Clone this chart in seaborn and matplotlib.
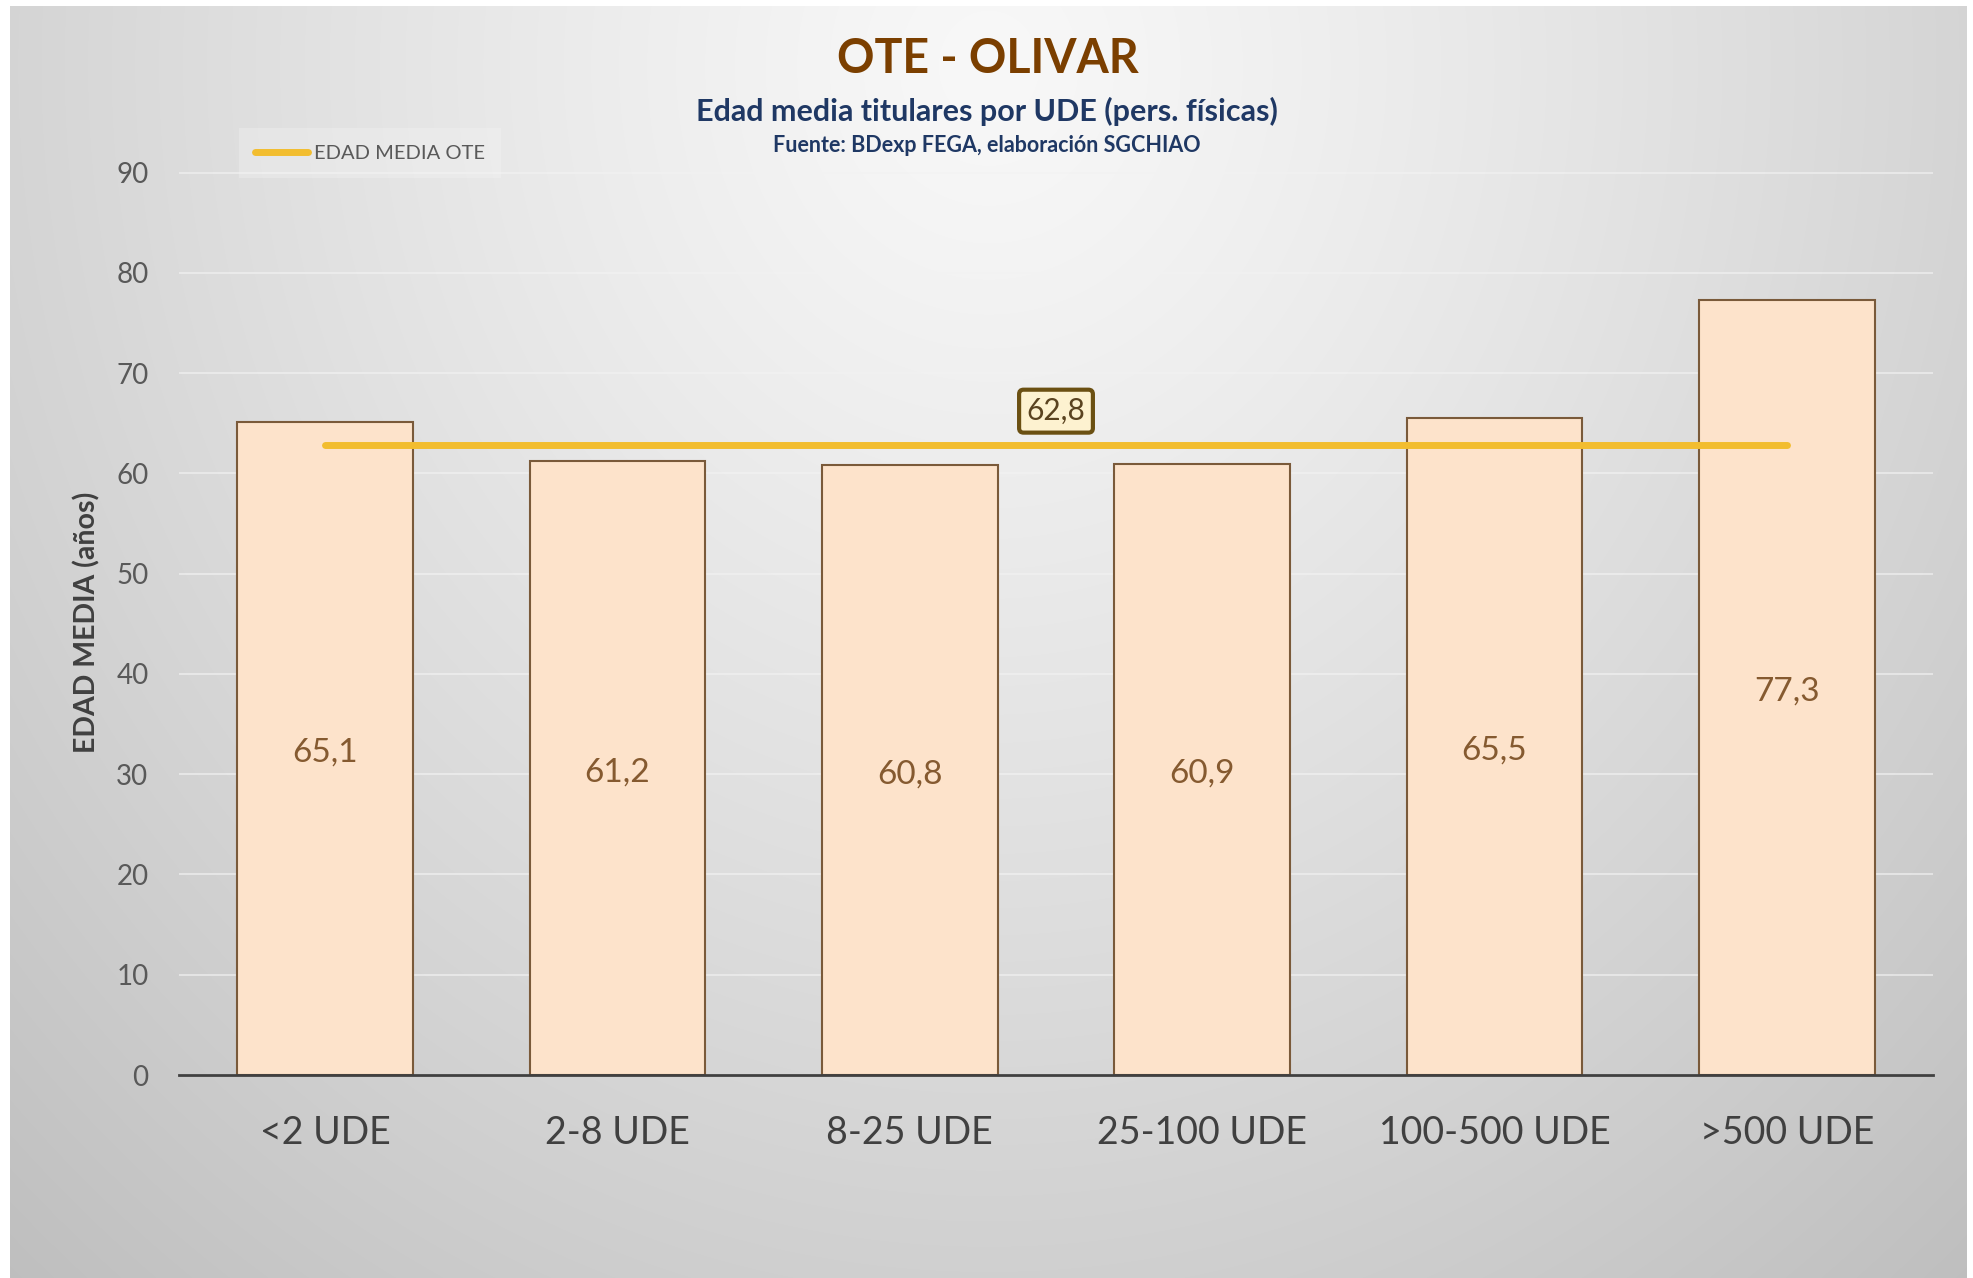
import numpy as np
import pandas as pd
import seaborn as sns
import matplotlib.pyplot as plt

# Data
categories = ["<2 UDE", "2-8 UDE", "8-25 UDE", "25-100 UDE", "100-500 UDE", ">500 UDE"]
edad_media = [65.1, 61.2, 60.8, 60.9, 65.5, 77.3]
edad_media_ote = 62.8
legend_label = "EDAD MEDIA OTE"

df = pd.DataFrame({"UDE": categories, "Edad": edad_media})

sns.set_theme(style="white")
plt.rcParams["font.family"] = ["Lato", "DejaVu Sans"]

fig = plt.figure(figsize=(19.74, 12.78), dpi=100)
fig.patch.set_facecolor("white")

# gradient panel behind the chart
bg = fig.add_axes([10 / 1974, 0, 1957 / 1974, 1 - 6 / 1278], zorder=-10)
h, w = 1272, 1957
yy, xx = np.mgrid[0:h, 0:w]
dx = (xx - w / 2) / 1350
dy = (yy - 60) / 1500
d = np.sqrt(dx ** 2 + dy ** 2)
shade = np.clip(248 - 52 * d ** 1.2, 188, 250) / 255
bg.imshow(np.dstack([shade] * 3), aspect="auto", interpolation="bilinear")
bg.axis("off")

ymax = 90.3
ax = fig.add_axes([179 / 1974, (1278 - 1075) / 1278, 1754 / 1974, 902.5 / 90 * ymax / 1278])
ax.patch.set_alpha(0)

sns.barplot(data=df, x="UDE", y="Edad", ax=ax, color="#fde3cb", saturation=1,
            width=0.6, edgecolor="#7a5a3a", linewidth=1.5, zorder=2)

ax.plot([0, len(categories) - 1], [edad_media_ote, edad_media_ote], color="#f2bd2f",
        lw=5, solid_capstyle="round", zorder=3, label=legend_label)

for i, v in enumerate(edad_media):
    ax.text(i, v / 2 - 0.4, f"{v:.1f}".replace(".", ","), ha="center", va="center",
            fontsize=24, color="#855a30", zorder=4)

ax.text((len(categories) - 1) / 2, 66.2, f"{edad_media_ote:.1f}".replace(".", ","),
        ha="center", va="center", fontsize=21.5, color="#5a4320", zorder=5,
        bbox=dict(boxstyle="round,pad=0.25,rounding_size=0.15", fc="#fdf2d0",
                  ec="#6b5012", lw=3))

ax.set_ylim(0, ymax)
ax.set_xlim(-0.5, len(categories) - 0.5)
ax.set_yticks(range(0, 91, 10))
ax.yaxis.grid(True, color="#f2f2f2", lw=1.3, alpha=0.7)
ax.set_axisbelow(True)
for s in ["top", "right", "left"]:
    ax.spines[s].set_visible(False)
ax.spines["bottom"].set_color("#404040")
ax.spines["bottom"].set_linewidth(2)
ax.spines["bottom"].set_zorder(6)

ax.tick_params(axis="y", length=0, pad=22, labelsize=20, labelcolor="#595959")
ax.tick_params(axis="x", length=0, pad=29, labelsize=27, labelcolor="#404040")
ax.set_xlabel("")
ax.set_ylabel("EDAD MEDIA (años)", fontsize=20.5, fontweight="bold", color="#404040")
ax.yaxis.set_label_coords(-0.045, 0.5)

leg = ax.legend(loc="center left", bbox_to_anchor=(235 / 1974, 1 - 153 / 1278),
                bbox_transform=fig.transFigure, fontsize=14.5, frameon=True,
                handlelength=2.6, handletextpad=0.3, borderpad=0.5)
leg.get_frame().set_facecolor("#f4f4f4")
leg.get_frame().set_alpha(0.35)
leg.get_frame().set_edgecolor("none")
leg.get_frame().set_boxstyle("square")
for t in leg.get_texts():
    t.set_color("#595959")

fig.text(0.5005, 1 - 59 / 1278, "OTE - OLIVAR", ha="center", va="center",
         fontsize=33.5, fontweight="bold", color="#7b3f00")
fig.text(0.5, 1 - 111 / 1278, "Edad media titulares por UDE (pers. físicas)",
         ha="center", va="center", fontsize=22, fontweight="bold", color="#1f3864")
fig.text(0.5, 1 - 146 / 1278, "Fuente: BDexp FEGA, elaboración SGCHIAO",
         ha="center", va="center", fontsize=15.5, fontweight="bold", color="#1f3864")

plt.savefig("out.png", dpi=100)
